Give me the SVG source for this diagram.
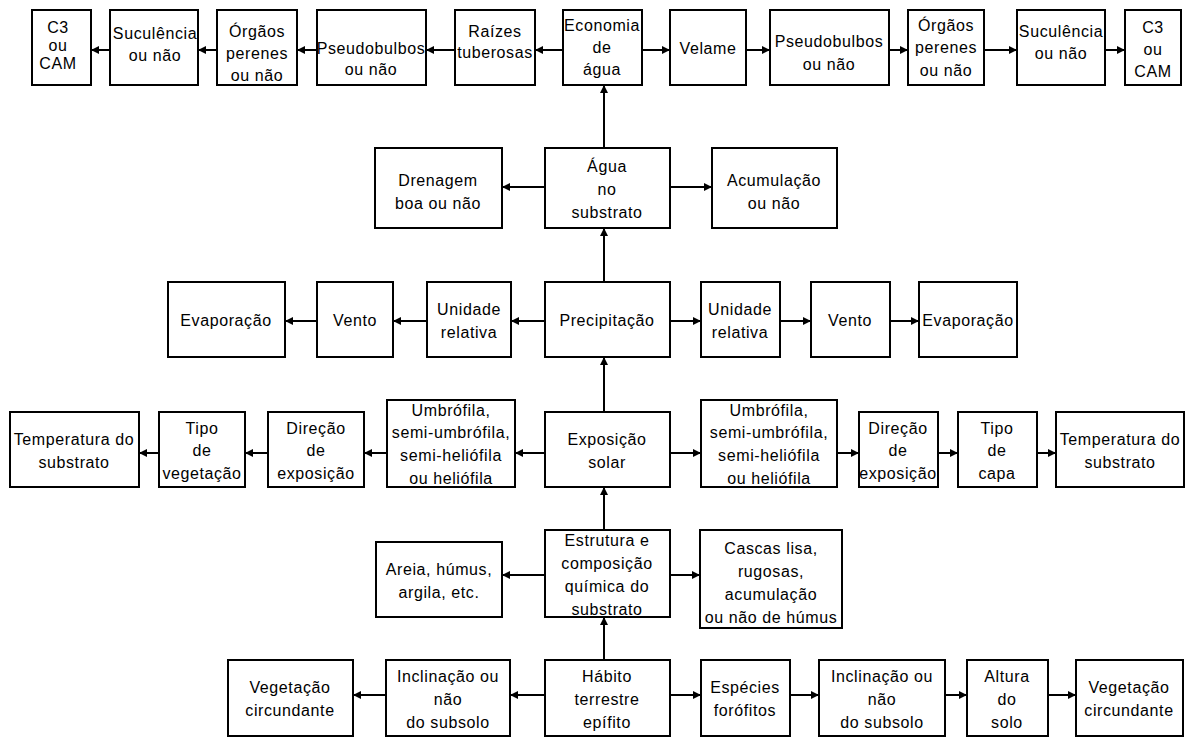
<svg xmlns="http://www.w3.org/2000/svg" width="1190" height="738" viewBox="0 0 1190 738">
  <style>
    .box { fill: #fff; stroke: #000; stroke-width: 2; }
    .lbl { font-family: "Liberation Sans", Arial, sans-serif; font-size: 16px; letter-spacing: 0.6px; fill: #000; text-anchor: middle; }
    .con { stroke: #000; stroke-width: 2; fill: none; marker-end: url(#ah); }
  </style>
  <defs>
    <marker id="ah" viewBox="0 0 10 10" refX="10" refY="5" markerWidth="4.5" markerHeight="4" orient="auto" markerUnits="strokeWidth">
      <path d="M0,0 L10,5 L0,10 Z" fill="#000"/>
    </marker>
  </defs>
  <rect width="1190" height="738" fill="#fff"/>

  <!-- connectors -->
  <g id="connectors">
    <!-- top row, leftwards -->
    <line class="con" x1="563" y1="50" x2="535" y2="50"/>
    <line class="con" x1="455" y1="50" x2="426" y2="50"/>
    <line class="con" x1="317" y1="50" x2="297" y2="50"/>
    <line class="con" x1="217" y1="50" x2="198" y2="50"/>
    <line class="con" x1="110" y1="50" x2="91" y2="50"/>
    <!-- top row, rightwards -->
    <line class="con" x1="642" y1="50" x2="670" y2="50"/>
    <line class="con" x1="746" y1="50" x2="770" y2="50"/>
    <line class="con" x1="889" y1="50" x2="908" y2="50"/>
    <line class="con" x1="984" y1="50" x2="1017" y2="50"/>
    <line class="con" x1="1105" y1="50" x2="1125" y2="50"/>
    <!-- central spine, upwards -->
    <line class="con" x1="604" y1="148" x2="604" y2="85"/>
    <line class="con" x1="604" y1="282" x2="604" y2="228"/>
    <line class="con" x1="604" y1="412" x2="604" y2="357"/>
    <line class="con" x1="604" y1="530" x2="604" y2="487"/>
    <line class="con" x1="604" y1="660" x2="604" y2="617"/>
    <!-- water row -->
    <line class="con" x1="545" y1="187" x2="502" y2="187"/>
    <line class="con" x1="670" y1="187" x2="712" y2="187"/>
    <!-- precipitation row -->
    <line class="con" x1="545" y1="321" x2="511" y2="321"/>
    <line class="con" x1="427" y1="321" x2="393" y2="321"/>
    <line class="con" x1="317" y1="321" x2="285" y2="321"/>
    <line class="con" x1="670" y1="321" x2="701" y2="321"/>
    <line class="con" x1="780" y1="321" x2="811" y2="321"/>
    <line class="con" x1="890" y1="321" x2="919" y2="321"/>
    <!-- solar exposure row -->
    <line class="con" x1="545" y1="453" x2="515" y2="453"/>
    <line class="con" x1="387" y1="453" x2="364" y2="453"/>
    <line class="con" x1="268" y1="453" x2="245" y2="453"/>
    <line class="con" x1="159" y1="453" x2="139" y2="453"/>
    <line class="con" x1="670" y1="453" x2="701" y2="453"/>
    <line class="con" x1="837" y1="453" x2="859" y2="453"/>
    <line class="con" x1="938" y1="453" x2="958" y2="453"/>
    <line class="con" x1="1037" y1="453" x2="1056" y2="453"/>
    <!-- substrate row -->
    <line class="con" x1="545" y1="575" x2="502" y2="575"/>
    <line class="con" x1="670" y1="575" x2="700" y2="575"/>
    <!-- habit row -->
    <line class="con" x1="545" y1="695" x2="510" y2="695"/>
    <line class="con" x1="386" y1="695" x2="353" y2="695"/>
    <line class="con" x1="670" y1="695" x2="701" y2="695"/>
    <line class="con" x1="790" y1="695" x2="819" y2="695"/>
    <line class="con" x1="945" y1="695" x2="967" y2="695"/>
    <line class="con" x1="1048" y1="695" x2="1076" y2="695"/>
  </g>

  <!-- top row -->
  <g id="c3-left"><rect class="box" x="32" y="10" width="59" height="75"/>
    <text class="lbl"><tspan x="58" y="33">C3</tspan><tspan x="58" y="51">ou</tspan><tspan x="58" y="69">CAM</tspan></text></g>
  <g id="suculencia-left"><rect class="box" x="110" y="10" width="88" height="75"/>
    <text class="lbl"><tspan x="155" y="39">Suculência</tspan><tspan x="155" y="61">ou não</tspan></text></g>
  <g id="orgaos-left"><rect class="box" x="217" y="10" width="80" height="75"/>
    <text class="lbl"><tspan x="257" y="37">Órgãos</tspan><tspan x="257" y="59">perenes</tspan><tspan x="257" y="81">ou não</tspan></text></g>
  <g id="pseudobulbos-left"><rect class="box" x="317" y="10" width="109" height="75"/>
    <text class="lbl"><tspan x="371" y="54">Pseudobulbos</tspan><tspan x="371" y="75">ou não</tspan></text></g>
  <g id="raizes"><rect class="box" x="455" y="10" width="80" height="75"/>
    <text class="lbl"><tspan x="495" y="37">Raízes</tspan><tspan x="495" y="58">tuberosas</tspan></text></g>
  <g id="economia"><rect class="box" x="563" y="10" width="79" height="75"/>
    <text class="lbl"><tspan x="602" y="31">Economia</tspan><tspan x="602" y="53">de</tspan><tspan x="602" y="75">água</tspan></text></g>
  <g id="velame"><rect class="box" x="670" y="10" width="76" height="75"/>
    <text class="lbl"><tspan x="708" y="54">Velame</tspan></text></g>
  <g id="pseudobulbos-right"><rect class="box" x="770" y="10" width="119" height="75"/>
    <text class="lbl"><tspan x="829" y="47">Pseudobulbos</tspan><tspan x="829" y="70">ou não</tspan></text></g>
  <g id="orgaos-right"><rect class="box" x="908" y="10" width="76" height="75"/>
    <text class="lbl"><tspan x="946" y="31">Órgãos</tspan><tspan x="946" y="53">perenes</tspan><tspan x="946" y="76">ou não</tspan></text></g>
  <g id="suculencia-right"><rect class="box" x="1017" y="10" width="88" height="75"/>
    <text class="lbl"><tspan x="1061" y="37">Suculência</tspan><tspan x="1061" y="59">ou não</tspan></text></g>
  <g id="c3-right"><rect class="box" x="1125" y="10" width="56" height="75"/>
    <text class="lbl"><tspan x="1153" y="33">C3</tspan><tspan x="1153" y="55">ou</tspan><tspan x="1153" y="77">CAM</tspan></text></g>

  <!-- water in substrate -->
  <g id="drenagem"><rect class="box" x="375" y="148" width="127" height="80"/>
    <text class="lbl"><tspan x="438" y="186">Drenagem</tspan><tspan x="438" y="209">boa ou não</tspan></text></g>
  <g id="agua"><rect class="box" x="545" y="148" width="125" height="80"/>
    <text class="lbl"><tspan x="607" y="172">Água</tspan><tspan x="607" y="195">no</tspan><tspan x="607" y="218">substrato</tspan></text></g>
  <g id="acumulacao"><rect class="box" x="712" y="148" width="125" height="80"/>
    <text class="lbl"><tspan x="774" y="186">Acumulação</tspan><tspan x="774" y="209">ou não</tspan></text></g>

  <!-- precipitation -->
  <g id="evaporacao-left"><rect class="box" x="168" y="282" width="117" height="75"/>
    <text class="lbl"><tspan x="226" y="326">Evaporação</tspan></text></g>
  <g id="vento-left"><rect class="box" x="317" y="282" width="76" height="75"/>
    <text class="lbl"><tspan x="355" y="326">Vento</tspan></text></g>
  <g id="unidade-left"><rect class="box" x="427" y="282" width="84" height="75"/>
    <text class="lbl"><tspan x="469" y="315">Unidade</tspan><tspan x="469" y="338">relativa</tspan></text></g>
  <g id="precipitacao"><rect class="box" x="545" y="282" width="125" height="75"/>
    <text class="lbl"><tspan x="607" y="326">Precipitação</tspan></text></g>
  <g id="unidade-right"><rect class="box" x="701" y="282" width="79" height="75"/>
    <text class="lbl"><tspan x="740" y="315">Unidade</tspan><tspan x="740" y="338">relativa</tspan></text></g>
  <g id="vento-right"><rect class="box" x="811" y="282" width="79" height="75"/>
    <text class="lbl"><tspan x="850" y="326">Vento</tspan></text></g>
  <g id="evaporacao-right"><rect class="box" x="919" y="282" width="98" height="75"/>
    <text class="lbl"><tspan x="968" y="326">Evaporação</tspan></text></g>

  <!-- solar exposure -->
  <g id="temperatura-left"><rect class="box" x="10" y="412" width="129" height="75"/>
    <text class="lbl"><tspan x="74" y="445">Temperatura do</tspan><tspan x="74" y="468">substrato</tspan></text></g>
  <g id="tipo-vegetacao"><rect class="box" x="159" y="412" width="86" height="75"/>
    <text class="lbl"><tspan x="202" y="434">Tipo</tspan><tspan x="202" y="456">de</tspan><tspan x="202" y="479">vegetação</tspan></text></g>
  <g id="direcao-left"><rect class="box" x="268" y="412" width="96" height="75"/>
    <text class="lbl"><tspan x="316" y="434">Direção</tspan><tspan x="316" y="456">de</tspan><tspan x="316" y="479">exposição</tspan></text></g>
  <g id="umbrofila-left"><rect class="box" x="387" y="400" width="128" height="87"/>
    <text class="lbl"><tspan x="451" y="416">Umbrófila,</tspan><tspan x="451" y="438">semi-umbrófila,</tspan><tspan x="451" y="461">semi-heliófila</tspan><tspan x="451" y="484">ou heliófila</tspan></text></g>
  <g id="exposicao"><rect class="box" x="545" y="412" width="125" height="75"/>
    <text class="lbl"><tspan x="607" y="445">Exposição</tspan><tspan x="607" y="468">solar</tspan></text></g>
  <g id="umbrofila-right"><rect class="box" x="701" y="400" width="136" height="87"/>
    <text class="lbl"><tspan x="769" y="416">Umbrófila,</tspan><tspan x="769" y="438">semi-umbrófila,</tspan><tspan x="769" y="461">semi-heliófila</tspan><tspan x="769" y="484">ou heliófila</tspan></text></g>
  <g id="direcao-right"><rect class="box" x="859" y="412" width="79" height="75"/>
    <text class="lbl"><tspan x="898" y="434">Direção</tspan><tspan x="898" y="456">de</tspan><tspan x="898" y="479">exposição</tspan></text></g>
  <g id="tipo-capa"><rect class="box" x="958" y="412" width="79" height="75"/>
    <text class="lbl"><tspan x="997" y="434">Tipo</tspan><tspan x="997" y="456">de</tspan><tspan x="997" y="479">capa</tspan></text></g>
  <g id="temperatura-right"><rect class="box" x="1056" y="412" width="128" height="75"/>
    <text class="lbl"><tspan x="1120" y="445">Temperatura do</tspan><tspan x="1120" y="468">substrato</tspan></text></g>

  <!-- substrate -->
  <g id="areia"><rect class="box" x="376" y="542" width="126" height="75"/>
    <text class="lbl"><tspan x="439" y="575">Areia, húmus,</tspan><tspan x="439" y="598">argila, etc.</tspan></text></g>
  <g id="estrutura"><rect class="box" x="545" y="530" width="125" height="87"/>
    <text class="lbl"><tspan x="607" y="546">Estrutura e</tspan><tspan x="607" y="569">composição</tspan><tspan x="607" y="592">química do</tspan><tspan x="607" y="615">substrato</tspan></text></g>
  <g id="cascas"><rect class="box" x="700" y="530" width="142" height="98"/>
    <text class="lbl"><tspan x="771" y="554">Cascas lisa,</tspan><tspan x="771" y="577">rugosas,</tspan><tspan x="771" y="600">acumulação</tspan><tspan x="771" y="623">ou não de húmus</tspan></text></g>

  <!-- habit -->
  <g id="vegetacao-left"><rect class="box" x="228" y="660" width="125" height="76"/>
    <text class="lbl"><tspan x="290" y="693">Vegetação</tspan><tspan x="290" y="716">circundante</tspan></text></g>
  <g id="inclinacao-left"><rect class="box" x="386" y="660" width="124" height="76"/>
    <text class="lbl"><tspan x="448" y="682">Inclinação ou</tspan><tspan x="448" y="705">não</tspan><tspan x="448" y="728">do subsolo</tspan></text></g>
  <g id="habito"><rect class="box" x="545" y="660" width="125" height="76"/>
    <text class="lbl"><tspan x="607" y="682">Hábito</tspan><tspan x="607" y="705">terrestre</tspan><tspan x="607" y="728">epífito</tspan></text></g>
  <g id="especies"><rect class="box" x="701" y="660" width="89" height="76"/>
    <text class="lbl"><tspan x="745" y="693">Espécies</tspan><tspan x="745" y="716">forófitos</tspan></text></g>
  <g id="inclinacao-right"><rect class="box" x="819" y="660" width="126" height="76"/>
    <text class="lbl"><tspan x="882" y="682">Inclinação ou</tspan><tspan x="882" y="705">não</tspan><tspan x="882" y="728">do subsolo</tspan></text></g>
  <g id="altura"><rect class="box" x="967" y="660" width="81" height="76"/>
    <text class="lbl"><tspan x="1007" y="682">Altura</tspan><tspan x="1007" y="705">do</tspan><tspan x="1007" y="728">solo</tspan></text></g>
  <g id="vegetacao-right"><rect class="box" x="1076" y="660" width="107" height="76"/>
    <text class="lbl"><tspan x="1129" y="693">Vegetação</tspan><tspan x="1129" y="716">circundante</tspan></text></g>
</svg>
